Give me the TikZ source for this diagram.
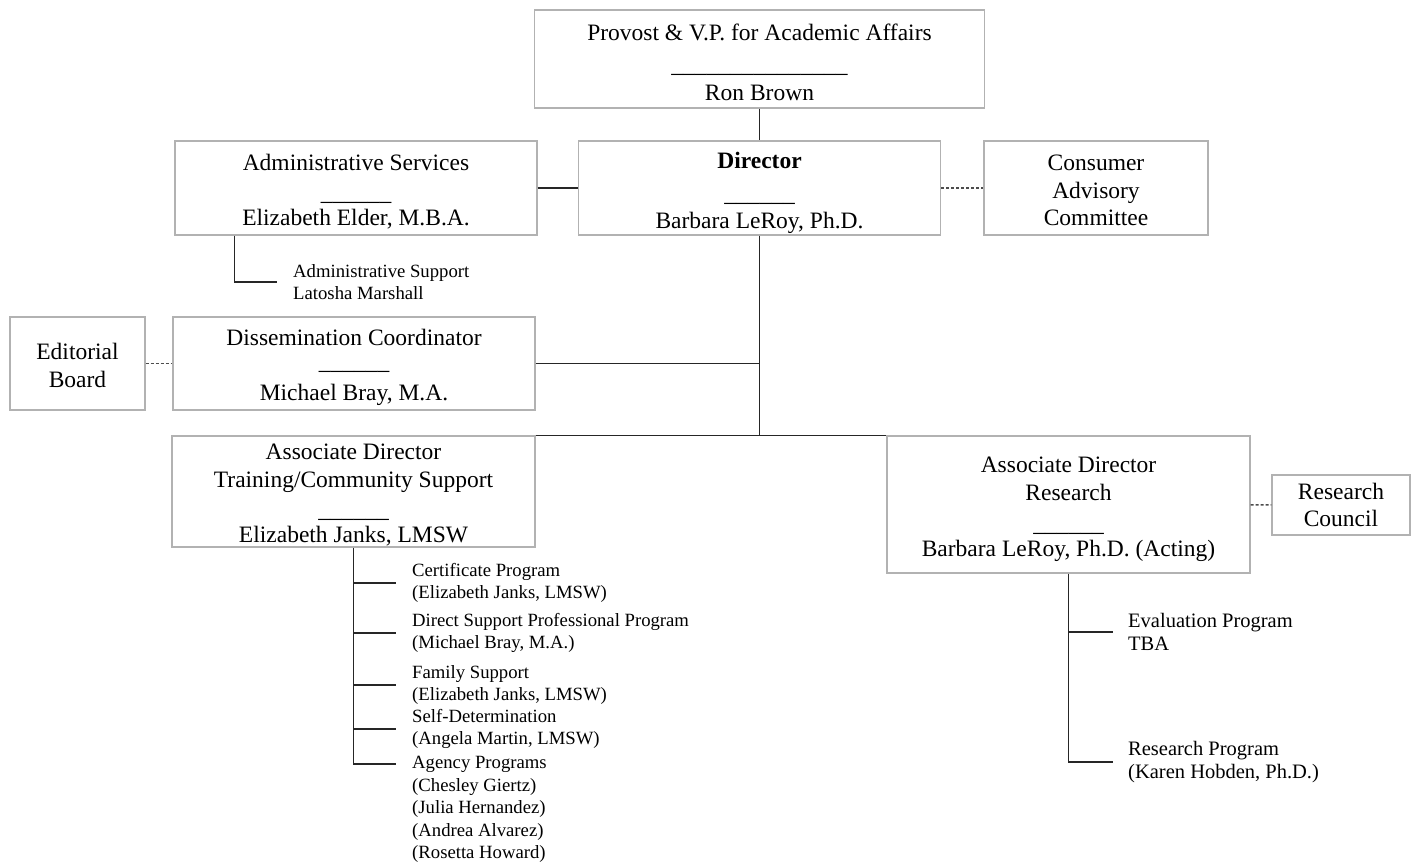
\documentclass[tikz,border=0pt]{standalone}
\usepackage{fontspec}
\setmainfont{Liberation Serif}
\newcommand{\padtop}[1]{\rule{0pt}{\dimexpr16.5pt+#1\relax}}
\newcommand{\sigshort}{\raisebox{-2.5pt}{\_\_\_\_\_\_}}
\tikzset{
  unitbox/.style={draw=gray!60, line width=1.2pt, align=center, inner sep=0pt,
    font=\fontsize{23.5}{27.5}\selectfont},
  link/.style={black!85, line width=1.4pt},
  dotlink/.style={gray!60!black, line width=1.4pt, dash pattern=on 3pt off 2pt},
  progtext/.style={anchor=west, align=left, inner sep=0pt,
    font=\fontsize{18.7}{22.5}\selectfont},
  restext/.style={anchor=west, align=left, inner sep=0pt,
    font=\fontsize{20.5}{23.5}\selectfont}
}
\begin{document}
\begin{tikzpicture}[x=1pt, y=-1pt]
\useasboundingbox (0,0) rectangle (1415,863);

% Top: provost and director
\node[unitbox, minimum width=450pt, minimum height=98pt, font=\fontsize{23.5}{30}\selectfont] (prov) at (759.5,59)
  {\padtop{6pt}Provost \& V.P. for Academic Affairs\\ \raisebox{-2.5pt}{\_\_\_\_\_\_\_\_\_\_\_\_\_\_\_}\\ Ron Brown};
\node[unitbox, minimum width=362pt, minimum height=94pt, font=\fontsize{23.5}{30}\selectfont] (dir) at (759.5,188)
  {\padtop{10pt}\textbf{Director}\\ \sigshort\\ Barbara LeRoy, Ph.D.};
\node[unitbox, minimum width=362pt, minimum height=94pt] (admin) at (356,188)
  {\padtop{7pt}Administrative Services\\ \sigshort\\ Elizabeth Elder, M.B.A.};
\node[unitbox, minimum width=224pt, minimum height=94pt] (cac) at (1096,188)
  {\padtop{4pt}Consumer\\ Advisory\\ Committee};
\node[progtext] (adsup) at (293,282) {Administrative Support\\ Latosha Marshall};

% Dissemination
\node[unitbox, minimum width=135pt, minimum height=93pt] (edit) at (77.5,363.5)
  {\padtop{4pt}Editorial\\ Board};
\node[unitbox, minimum width=362pt, minimum height=93pt] (diss) at (354,363.5)
  {\padtop{8pt}Dissemination Coordinator\\ \raisebox{3.5pt}{\_\_\_\_\_\_}\\ Michael Bray, M.A.};

% Associate directors
\node[unitbox, minimum width=363pt, minimum height=111pt] (train) at (353.5,491.5)
  {\padtop{6pt}Associate Director\\ Training/Community Support\\ \sigshort\\ Elizabeth Janks, LMSW};
\node[unitbox, minimum width=363pt, minimum height=137pt, font=\fontsize{23.5}{28}\selectfont] (res) at (1068.5,504.5)
  {\padtop{9pt}Associate Director\\ Research\\ \sigshort\\ Barbara LeRoy, Ph.D. (Acting)};
\node[unitbox, minimum width=138pt, minimum height=60pt] (rc) at (1341,505)
  {Research\\ Council};

% Training programs
\node[progtext] (cert) at (412,583) {Certificate Program\\ (Elizabeth Janks, LMSW)};
\node[progtext] (dsp) at (412,633) {Direct Support Professional Program\\ (Michael Bray, M.A.)};
\node[progtext] (family) at (412,685) {Family Support\\ (Elizabeth Janks, LMSW)};
\node[progtext] (selfdet) at (412,729) {Self-Determination\\ (Angela Martin, LMSW)};
\node[progtext] (agency) at (412,764) {Agency Programs};
\node[progtext, anchor=north west] (agencystaff) at ([yshift=-5.5pt]agency.south west)
  {(Chesley Giertz)\\ (Julia Hernandez)\\ (Andrea Alvarez)\\ (Rosetta Howard)};

% Research programs
\node[restext] (evalprog) at (1128,632) {Evaluation Program\\ TBA};
\node[restext] (resprog) at (1128,762) {Research Program\\ (Karen Hobden, Ph.D.)};

% Lines
\draw[link] (prov) -- (dir);
\draw[link] (admin) -- (dir);
\draw[dotlink] (dir) -- (cac);
\draw[link] ([xshift=60pt]admin.south west) |- ([xshift=-16pt]adsup.west);
\draw[dotlink] (edit) -- (diss);
\draw[link] (dir.south) -- (dir.south |- res.north);
\draw[link] (diss.east) -- (diss.east -| dir.south);
\draw[link] (train.north east) -- (res.north west);
\draw[dotlink] (res) -- (rc);

% Program branches
\draw[link] (train.south) |- ([xshift=-16pt]agency.west);
\draw[link] (train.south |- cert.west) -- ([xshift=-16pt]cert.west);
\draw[link] (train.south |- dsp.west) -- ([xshift=-16pt]dsp.west);
\draw[link] (train.south |- family.west) -- ([xshift=-16pt]family.west);
\draw[link] (train.south |- selfdet.west) -- ([xshift=-16pt]selfdet.west);
\draw[link] (res.south) |- ([xshift=-15pt]resprog.west);
\draw[link] (res.south |- evalprog.west) -- ([xshift=-15pt]evalprog.west);

\end{tikzpicture}
\end{document}
